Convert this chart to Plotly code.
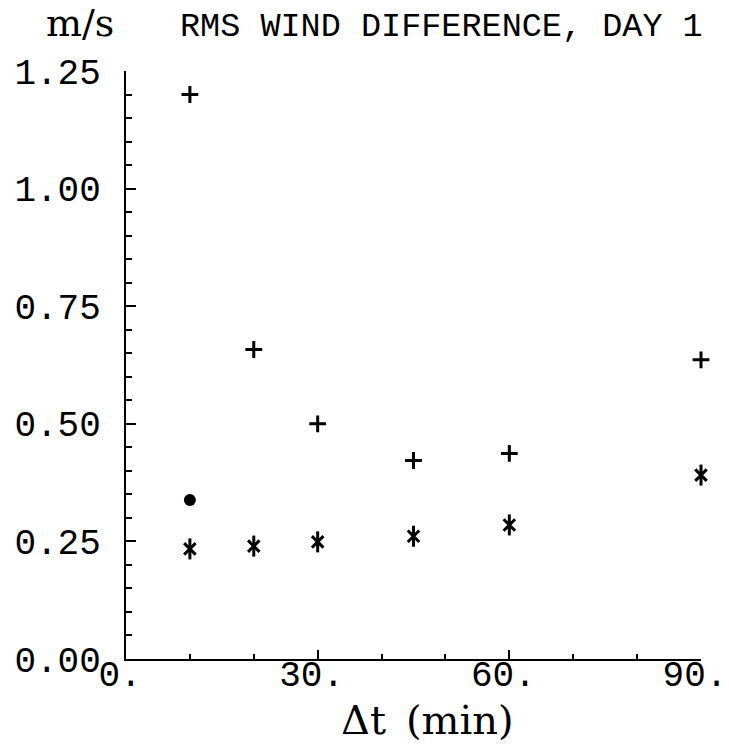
import plotly.graph_objects as go

# ---- data ----
dt_min = [10, 20, 30, 45, 60, 90]
rms_plus = [1.20, 0.658, 0.500, 0.422, 0.437, 0.636]
rms_star = [0.234, 0.240, 0.249, 0.261, 0.285, 0.391]
dot_x = [10]
dot_y = [0.338]

x_tickvals = [0, 30, 60, 90]
x_ticktext = ["0.", "30.", "60.", "90."]
y_tickvals = [0.00, 0.25, 0.50, 0.75, 1.00, 1.25]
y_ticktext = ["0.00", "0.25", "0.50", "0.75", "1.00", "1.25"]

title_text = "RMS WIND DIFFERENCE, DAY 1"
unit_text = "m/s"
xlabel_text = "Δt\u2002(min)"

W, H = 729, 746
ML, MR, MT, MB = 126, 28, 71, 87
PW, PH = W - ML - MR, H - MT - MB

def px_to_paper_x(px):
    return (px - ML) / PW

def px_to_paper_y(py):
    return (H - MB - py) / PH

fig = go.Figure()

fig.add_trace(go.Scatter(
    x=dt_min, y=rms_plus, mode="markers", cliponaxis=False,
    marker=dict(symbol="cross-thin-open", size=12, color="black",
                line=dict(width=3, color="black")),
    showlegend=False))

# six-armed asterisk = X + vertical bar
fig.add_trace(go.Scatter(
    x=dt_min, y=rms_star, mode="markers", cliponaxis=False,
    marker=dict(symbol="x-thin-open", size=11.5, color="black",
                line=dict(width=3, color="black")),
    showlegend=False))
fig.add_trace(go.Scatter(
    x=dt_min, y=rms_star, mode="markers", cliponaxis=False,
    marker=dict(symbol="line-ns-open", size=15, color="black",
                line=dict(width=3, color="black")),
    showlegend=False))

fig.add_trace(go.Scatter(
    x=dot_x, y=dot_y, mode="markers", cliponaxis=False,
    marker=dict(symbol="circle", size=12, color="black"),
    showlegend=False))

tick_font = dict(family="Liberation Mono", size=36, color="black")

fig.update_xaxes(
    range=[0, 90], showline=True, linecolor="black", linewidth=2,
    showgrid=False, zeroline=False, mirror=False, automargin=False,
    tickmode="array", tickvals=x_tickvals, ticktext=x_ticktext,
    ticks="inside", ticklen=9, tickwidth=1.5, tickcolor="black",
    tickfont=tick_font, ticklabelshift=-6, ticklabelstandoff=-18,
    ticklabeloverflow="allow",
    minor=dict(tickmode="linear", tick0=0, dtick=10, ticks="inside",
               ticklen=5, tickwidth=1.5, tickcolor="black"),
    fixedrange=True)

fig.update_yaxes(
    range=[0, 1.25], showline=True, linecolor="black", linewidth=2,
    showgrid=False, zeroline=False, mirror=False, automargin=False,
    tickmode="array", tickvals=y_tickvals, ticktext=y_ticktext,
    ticks="inside", ticklen=10, tickwidth=1.5, tickcolor="black",
    tickfont=tick_font, ticklabelstandoff=16, ticklabeloverflow="allow",
    minor=dict(tickmode="linear", tick0=0, dtick=0.05, ticks="inside",
               ticklen=6, tickwidth=1.5, tickcolor="black"),
    fixedrange=True)

fig.add_annotation(
    text=title_text, xref="paper", yref="paper",
    x=px_to_paper_x(178), y=px_to_paper_y(27),
    xanchor="left", yanchor="middle", showarrow=False,
    font=dict(family="Liberation Mono", size=33.5, color="black"))

fig.add_annotation(
    text=unit_text, xref="paper", yref="paper",
    x=px_to_paper_x(44), y=px_to_paper_y(23),
    xanchor="left", yanchor="middle", showarrow=False,
    font=dict(family="DejaVu Serif", size=38, color="black"))

fig.add_annotation(
    text=xlabel_text, xref="paper", yref="paper",
    x=px_to_paper_x(427), y=px_to_paper_y(720),
    xanchor="center", yanchor="middle", showarrow=False,
    font=dict(family="DejaVu Serif", size=40, color="black"))

fig.update_layout(
    width=W, height=H,
    margin=dict(l=ML, r=MR, t=MT, b=MB, pad=0),
    paper_bgcolor="white", plot_bgcolor="white",
    showlegend=False)

fig.write_html("out.html", config={"displayModeBar": False},
               post_script="document.body.style.margin='0';")
